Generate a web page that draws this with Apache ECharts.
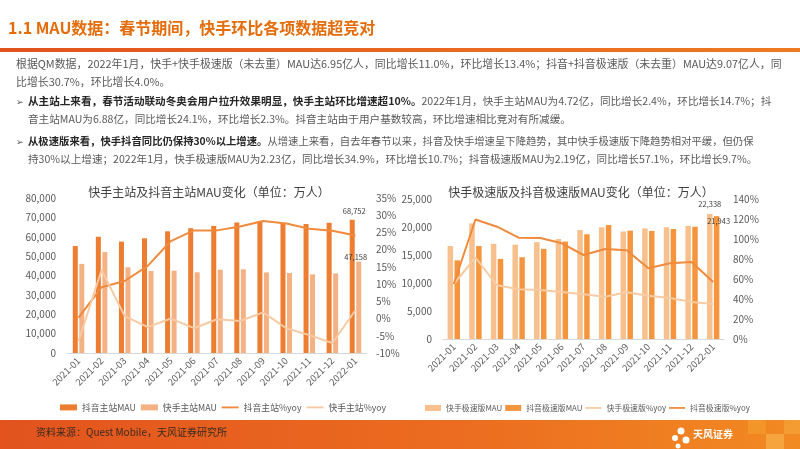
<!DOCTYPE html>
<html>
<head>
<meta charset="utf-8">
<script src="https://cdn.jsdelivr.net/npm/echarts@6/dist/echarts.min.js"></script>
<style>
  html, body { margin: 0; padding: 0; background: #fff; }
  #main { width: 800px; height: 449px; }
</style>
</head>
<body>
<div id="main"></div>
<script>
var months = ['2021-01','2021-02','2021-03','2021-04','2021-05','2021-06','2021-07','2021-08','2021-09','2021-10','2021-11','2021-12','2022-01'];

// 主站 (万人 / %)
var dyMainMau = [55200, 60000, 57500, 59200, 62800, 64400, 65600, 67300, 67800, 67250, 66600, 67250, 68752];
var ksMainMau = [46000, 52100, 44200, 42300, 42500, 41650, 43000, 43200, 41600, 41300, 40600, 41100, 47158];
var dyMainYoy = [0.3, 9.1, 10.9, 15.3, 22.5, 25.6, 25.6, 26.7, 28.3, 27.6, 26.1, 25.5, 24.1];
var ksMainYoy = [-6.5, 14.1, 0.7, -2.5, 0.0, -2.8, -0.2, -0.7, 1.8, -2.8, -4.8, -7.1, 2.4];

// 极速版 (万人 / %)
var ksLiteMau = [16600, 20650, 17000, 16850, 17300, 17850, 19450, 19950, 19200, 19750, 19950, 20200, 22338];
var dyLiteMau = [14050, 16600, 14300, 14600, 16100, 17400, 18700, 20350, 19350, 19300, 19650, 20050, 21943];
var ksLiteYoy = [55.0, 81.5, 53.7, 49.7, 49.0, 47.0, 44.7, 42.3, 46.7, 43.3, 41.0, 37.0, 34.9];
var dyLiteYoy = [55.0, 119.5, 112.3, 101.3, 101.0, 95.7, 84.0, 90.0, 88.7, 70.7, 75.7, 77.0, 57.1];

var leftTicksMau = { min: 0, max: 80000, interval: 10000 };
var leftTicksYoy = { min: -10, max: 35, interval: 5 };
var rightTicksMau = { min: 0, max: 25000, interval: 5000 };
var rightTicksYoy = { min: 0, max: 140, interval: 20 };

var FONT = '"Noto Sans CJK SC", "Noto Sans", sans-serif';
var txt = '#404040';
var LINE_ICON = 'path://M0,0H20V2.2H0Z';
function f(size, bold) { return (bold ? 'bold ' : '') + size + 'px ' + FONT; }

function thousands(v) { return String(v).replace(/\B(?=(\d{3})+(?!\d))/g, ','); }

// 只给最后一个点加标签
function lastLabel(arr, label) {
  return arr.map(function (v, i) {
    if (i !== arr.length - 1) return v;
    return { value: v, label: label };
  });
}

var lblBase = { show: true, fontSize: 7.5, color: txt, fontFamily: FONT };

function xAxisOf(gi) {
  return {
    type: 'category', gridIndex: gi, data: months,
    axisLine: { lineStyle: { color: '#d9d9d9', width: 1 } },
    axisTick: { show: false },
    axisLabel: { rotate: 45, interval: 0, fontSize: 9.5, color: '#595959', fontFamily: FONT, margin: 6 }
  };
}
function yAxisOf(gi, t, pos, pct) {
  return {
    type: 'value', gridIndex: gi, position: pos,
    min: t.min, max: t.max, interval: t.interval,
    splitLine: { show: false }, axisLine: { show: false }, axisTick: { show: false },
    axisLabel: {
      fontSize: 10, color: '#595959', fontFamily: FONT, margin: pos === 'left' ? 11 : 9,
      formatter: pct ? function (v) { return v + '%'; } : function (v) { return thousands(v); }
    }
  };
}

var option = {
  animation: false,
  textStyle: { fontFamily: FONT },
  grid: [
    { left: 67, right: 433, top: 198, bottom: 96 },
    { left: 443, right: 76, top: 199, bottom: 110 }
  ],
  legend: [
    {
      left: 55, top: 398, width: 360, itemWidth: 17, itemHeight: 6, itemGap: 5,
      textStyle: { fontSize: 8.8, color: '#595959', fontFamily: FONT },
      data: [
        { name: '抖音主站MAU', icon: 'rect' }, { name: '快手主站MAU', icon: 'rect' },
        { name: '抖音主站%yoy', icon: LINE_ICON }, { name: '快手主站%yoy', icon: LINE_ICON }
      ]
    },
    {
      left: 420, top: 399, width: 378, itemWidth: 16, itemHeight: 6, itemGap: 3,
      textStyle: { fontSize: 7.9, color: '#595959', fontFamily: FONT },
      data: [
        { name: '快手极速版MAU', icon: 'rect' }, { name: '抖音极速版MAU', icon: 'rect' },
        { name: '快手极速版%yoy', icon: LINE_ICON }, { name: '抖音极速版%yoy', icon: LINE_ICON }
      ]
    }
  ],
  xAxis: [xAxisOf(0), xAxisOf(1)],
  yAxis: [
    yAxisOf(0, leftTicksMau, 'left', false),
    yAxisOf(0, leftTicksYoy, 'right', true),
    yAxisOf(1, rightTicksMau, 'left', false),
    yAxisOf(1, rightTicksYoy, 'right', true)
  ],
  series: [
    {
      name: '抖音主站MAU', type: 'bar', xAxisIndex: 0, yAxisIndex: 0, barWidth: 5, barGap: '30%',
      itemStyle: { color: '#ED7D31' },
      data: lastLabel(dyMainMau, Object.assign({}, lblBase, { position: 'top', offset: [2, 0], formatter: function (p) { return thousands(p.value); } }))
    },
    {
      name: '快手主站MAU', type: 'bar', xAxisIndex: 0, yAxisIndex: 0, barWidth: 5, barGap: '30%',
      itemStyle: { color: '#F4B183' },
      data: lastLabel(ksMainMau, Object.assign({}, lblBase, { position: 'top', offset: [-3, 4], formatter: function (p) { return thousands(p.value); } }))
    },
    {
      name: '抖音主站%yoy', type: 'line', xAxisIndex: 0, yAxisIndex: 1, symbol: 'none',
      lineStyle: { color: '#F08A3C', width: 2 }, itemStyle: { color: '#F08A3C' },
      data: lastLabel(dyMainYoy, Object.assign({}, lblBase, { position: 'right', offset: [-4, 3], formatter: function (p) { return p.value + '%'; } }))
    },
    {
      name: '快手主站%yoy', type: 'line', xAxisIndex: 0, yAxisIndex: 1, symbol: 'none',
      lineStyle: { color: '#F8C9A3', width: 2 }, itemStyle: { color: '#F8C9A3' },
      data: lastLabel(ksMainYoy, Object.assign({}, lblBase, { position: 'right', offset: [-4, 0], formatter: function (p) { return p.value + '%'; } }))
    },
    {
      name: '快手极速版MAU', type: 'bar', xAxisIndex: 1, yAxisIndex: 2, barWidth: 5.5, barGap: '25%',
      itemStyle: { color: '#F8C08D' },
      data: lastLabel(ksLiteMau, Object.assign({}, lblBase, { position: 'top', offset: [0, -1], formatter: function (p) { return thousands(p.value); } }))
    },
    {
      name: '抖音极速版MAU', type: 'bar', xAxisIndex: 1, yAxisIndex: 2, barWidth: 5.5, barGap: '25%',
      itemStyle: { color: '#F5963F' },
      data: lastLabel(dyLiteMau, Object.assign({}, lblBase, { position: 'top', offset: [2, 14], formatter: function (p) { return thousands(p.value); } }))
    },
    {
      name: '快手极速版%yoy', type: 'line', xAxisIndex: 1, yAxisIndex: 3, symbol: 'none',
      lineStyle: { color: '#F9CBA2', width: 2 }, itemStyle: { color: '#F9CBA2' },
      data: lastLabel(ksLiteYoy, Object.assign({}, lblBase, { position: 'right', offset: [-8, 2], formatter: function (p) { return p.value + '%'; } }))
    },
    {
      name: '抖音极速版%yoy', type: 'line', xAxisIndex: 1, yAxisIndex: 3, symbol: 'none',
      lineStyle: { color: '#F08A3C', width: 2 }, itemStyle: { color: '#F08A3C' },
      data: lastLabel(dyLiteYoy, Object.assign({}, lblBase, { position: 'right', offset: [-6, 2], formatter: function (p) { return p.value + '%'; } }))
    }
  ],
  graphic: [
    // 标题
    { type: 'text', left: 8, top: 20, style: { text: '1.1 MAU数据：春节期间，快手环比各项数据超竞对', font: f(16, true), fill: '#E46C0A' } },
    {
      type: 'rect', shape: { x: 0, y: 48, width: 800, height: 4 },
      style: { fill: new echarts.graphic.LinearGradient(0, 0, 1, 0, [{ offset: 0, color: '#E2531E' }, { offset: 1, color: '#EE7A22' }]) }
    },
    // 正文
    { type: 'text', left: 16, top: 58, style: { text: '根据QM数据，2022年1月，快手+快手极速版（未去重）MAU达6.95亿人，同比增长11.0%，环比增长13.4%；抖音+抖音极速版（未去重）MAU达9.07亿人，同', font: f(10.9), fill: '#595959' } },
    { type: 'text', left: 16, top: 76, style: { text: '比增长30.7%，环比增长4.0%。', font: f(10.9), fill: '#595959' } },
    { type: 'text', left: 16, top: 97, style: { text: '➢', font: f(9), fill: '#595959' } },
    {
      type: 'text', left: 28, top: 96,
      style: {
        text: '{b|从主站上来看，春节活动联动冬奥会用户拉升效果明显，快手主站环比增速超10%。}{n|2022年1月，快手主站MAU为4.72亿，同比增长2.4%，环比增长14.7%；抖}',
        rich: { b: { font: f(10.6, true), fill: '#262626' }, n: { font: f(10.6), fill: '#595959' } }
      }
    },
    { type: 'text', left: 28, top: 114, style: { text: '音主站MAU为6.88亿，同比增长24.1%，环比增长2.3%。抖音主站由于用户基数较高，环比增速相比竞对有所减缓。', font: f(10.6), fill: '#595959' } },
    { type: 'text', left: 16, top: 137, style: { text: '➢', font: f(9), fill: '#595959' } },
    {
      type: 'text', left: 28, top: 136,
      style: {
        text: '{b|从极速版来看，快手抖音同比仍保持30%以上增速。}{n|从增速上来看，自去年春节以来，抖音及快手增速呈下降趋势，其中快手极速版下降趋势相对平缓，但仍保}',
        rich: { b: { font: f(10.35, true), fill: '#262626' }, n: { font: f(10.35), fill: '#595959' } }
      }
    },
    { type: 'text', left: 28, top: 154, style: { text: '持30%以上增速；2022年1月，快手极速版MAU为2.23亿，同比增长34.9%，环比增长10.7%；抖音极速版MAU为2.19亿，同比增长57.1%，环比增长9.7%。', font: f(10.6), fill: '#595959' } },
    // 图表标题
    { type: 'text', x: 209, y: 192, style: { text: '快手主站及抖音主站MAU变化（单位：万人）', font: f(12), fill: txt, align: 'center', verticalAlign: 'middle' } },
    { type: 'text', x: 581, y: 192, style: { text: '快手极速版及抖音极速版MAU变化（单位：万人）', font: f(12), fill: txt, align: 'center', verticalAlign: 'middle' } },
    // 底部
    {
      type: 'rect', shape: { x: 0, y: 420, width: 800, height: 29 },
      style: { fill: new echarts.graphic.LinearGradient(0, 0, 1, 0, [{ offset: 0, color: '#E2531E' }, { offset: 0.6, color: '#EC6E20' }, { offset: 1, color: '#F28A22' }]) }
    },
    { type: 'rect', shape: { x: 748, y: 420, width: 18, height: 14 }, style: { fill: '#F39A2C', opacity: 0.8 } },
    { type: 'rect', shape: { x: 766, y: 434, width: 18, height: 15 }, style: { fill: '#F7B04A', opacity: 0.7 } },
    { type: 'rect', shape: { x: 784, y: 420, width: 16, height: 14 }, style: { fill: '#F5A238', opacity: 0.7 } },
    { type: 'text', left: 36, top: 427, style: { text: '资料来源：Quest Mobile，天风证券研究所', font: f(10), fill: '#3a2a20' } },
    { type: 'circle', shape: { cx: 681, cy: 431, r: 3.5 }, style: { fill: '#fff' } },
    { type: 'circle', shape: { cx: 675, cy: 438, r: 3 }, style: { fill: '#fff' } },
    { type: 'circle', shape: { cx: 686, cy: 440, r: 3.5 }, style: { fill: '#fff' } },
    { type: 'circle', shape: { cx: 678, cy: 446, r: 2.5 }, style: { fill: '#fff' } },
    { type: 'text', left: 693, top: 429, style: { text: '天风证券', font: f(10, true), fill: '#fff' } }
  ]
};

var myChart = echarts.init(document.getElementById('main'));
myChart.setOption(option);
</script>
</body>
</html>
